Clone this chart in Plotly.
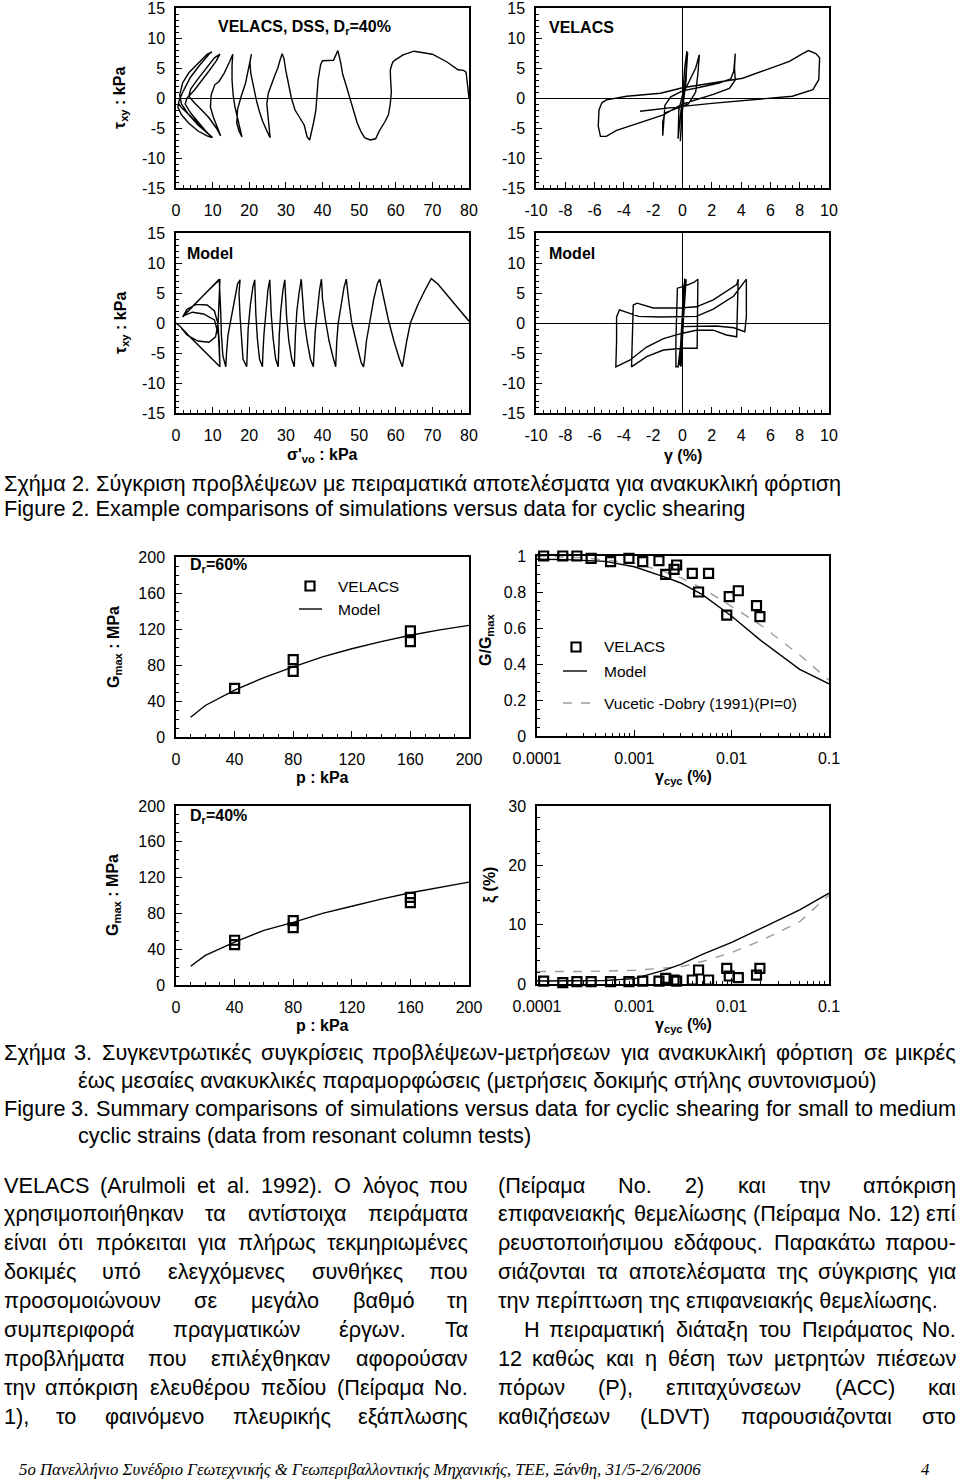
import unicodedata
import plotly.graph_objects as go

W, H = 960, 1482
FONT = "Liberation Sans, Arial, Helvetica, sans-serif"
SERIF = "Liberation Serif, Times New Roman, serif"


def fx(p):
    return p / W


def fy(p):
    return 1 - p / H


# ---------------- data ----------------
VEL_SP_SIG = [80, 79.6, 79.2, 78.5, 77, 74, 70, 65, 62, 60, 59.2, 58.8, 58.5, 58.6, 58.8, 58.5, 58, 57, 55.5, 54.5,
              53, 51.5, 50.5, 49.5, 48.5, 47.5, 46.5, 45.5, 45, 44.2, 43.5, 43, 40, 39.5, 38.8, 38.4, 38.2, 37.6, 37,
              36.5, 35.8, 35, 33.5, 32.5, 31.5, 30.8, 30, 29.5, 29, 28.5, 27.8, 27, 26.2, 25.2, 24.8, 25.1, 25.4,
              25.7, 24.6, 23.6, 22.8, 22, 21.2, 20.4, 20.2, 20.6, 19.8, 19, 17.8, 16.8, 16.6, 17.2, 18, 17, 16.1,
              15.6, 15.3, 15.3, 15.5, 14.6, 13.2, 11.8, 10.6, 9.6, 9.4, 10.2, 11.5, 12.2, 11, 9, 7, 5, 3.5, 4, 6, 8.5,
              10.5, 12, 11, 9, 7, 5, 3, 2.5, 4, 6, 8.5, 10, 8.5, 6, 3.5, 1.5, 1, 1.8, 3.5, 6, 8.5, 9.8, 9, 6.5, 4, 2,
              0.8, 0.5, 1.5, 3.5, 6, 8.5, 9.8, 7, 4, 1.5, 0.8]
VEL_SP_TAU = [0, 2.5, 4.3, 4.6, 4.7, 6.0, 7.3, 7.8, 7.2, 6.4, 6.0, 5.3, 4.6, 3.0, 1.0, -1.0, -2.8, -4.0, -5.5, -6.8,
              -7.0, -6.6, -5.6, -4.2, -2.0, 0, 2.0, 4.0, 5.8, 7.9, 6.8, 6.3, 6.2, 5.6, 3.0, 0.5, -2.0, -4.0, -6.0,
              -7.0, -6.5, -4.5, -3.0, -2.0, 0, 2.0, 4.5, 6.5, 7.4, 6.5, 5.0, 3.8, 2.3, 0.8, -1.0, -3.0, -5.0, -6.6,
              -5.2, -3.8, -2.3, -0.5, 1.8, 4.2, 6.0, 7.3, 5.3, 2.5, 0.3, -1.9, -4.2, -5.5, -6.5, -4.0, -1.5, 0.5,
              3.0, 5.5, 7.3, 6.0, 4.2, 2.8, 2.2, 0.5, -1.5, -3.2, -5.2, -6.3, -5.0, -3.3, -2.0, -0.8, 0.3, 1.5, 3.2,
              5.2, 6.7, 7.3, 6.2, 4.5, 2.8, 1.3, 0, -1.0, -2.5, -4.0, -5.8, -6.6, -5.8, -4.5, -2.8, -1.0, 0.5, 2.5,
              4.2, 5.8, 7.3, 7.7, 7.3, 5.5, 3.5, 1.2, -0.5, -1.5, -2.8, -4.2, -5.5, -6.3, -6.6, -4.8, -3.0, -1.6,
              -1.0]

VEL_SS_GAM = [0, 0.15, 0.3, 0.25, 0, -0.15, -0.05, 0.2, 0.35, 0.2, -0.1, -0.3, -0.25, 0, 0.4, 0.6, 0.9, 1.15,
              1.05, 0.9, 0.4, -0.5, -1.2, -1.35, -1.35, -1.25, -1.2, -0.8, 0, 1.2, 2.5, 3.3, 3.5, 3.6, 3.55, 3.6,
              3.2, 2.1, 1, 0, -1.3, -3.1, -4.5, -5.2, -5.6, -5.75, -5.7, -5.5, -5.2, -3.8, -1.5, 0, 2.1, 4.1, 5.7,
              7.3, 8.2, 8.6, 9.1, 9.36, 9.3, 8.9, 7.5, 5, 2, 0, -2, -2.9]
VEL_SS_TAU = [0, 5, 7.8, 3, -2, -7.2, -3, 3, 7.6, 2, -2, -6.8, -2, 0.5, 2.5, 3.5, 5, 7.2, 4, 1, -1, -1.8, -2.5, -4,
              -6.3, -3, -1.2, 0.2, 1.2, 1.8, 2.5, 3.2, 4.5, 7.4, 5, 3, 1.6, 0.6, -0.2, -1.0, -2.8, -4.2, -5.4, -6.4,
              -6.4, -4.7, -2, -0.8, -0.3, 0.3, 0.8, 1.7, 2.5, 3.3, 4.7, 6.1, 7.4, 7.9, 7.4, 6.7, 3.05, 1.4, 0.3,
              -0.2, -0.9, -1.4, -1.9, -2.2]

MOD_SP_SIG = [80, 77, 74, 71.5, 69.7, 68, 66, 64, 63, 62.2, 61.8, 61, 59.5, 58, 56.8, 56, 55.6, 55, 54, 53, 52,
              51.5, 51.2, 50.5, 49.3, 48, 47.2, 46.7, 46.5, 45.9, 45, 44.3, 43.9, 43.7, 43.6, 43, 41.8, 40.8, 40,
              39.8, 39.7, 39.2, 38.5, 38, 37.7, 37.5, 36.7, 35.8, 35, 34.5, 34.3, 34.2, 33.6, 33, 32.6, 32.4, 32.3,
              31.6, 30.8, 30.2, 29.8, 29.7, 29.2, 28.6, 28.2, 28, 27.9, 27.2, 26.5, 26, 25.7, 25.6, 25.1, 24.5, 24,
              23.7, 23.6, 22.8, 22.2, 21.8, 21.5, 21.5, 21, 20.3, 19.7, 19.4, 19.3, 18.3, 17.8, 17.5, 17.2, 17.5,
              16.8, 16, 15, 14.2, 13.8, 13.6, 12.8, 12.4, 12.2, 12, 11.8, 8, 4, 1.8, 3, 5.5, 8.5, 10.5, 11.4, 11.8,
              12, 8, 4, 1.5, 3, 6, 9, 10.8, 11.5, 11.8, 12, 8, 4, 2, 4.5, 7.5, 10.5, 11.6, 12, 8, 4, 1, 0]
MOD_SP_TAU = [0.3, 2.5, 4.8, 6.5, 7.4, 5.5, 3.0, 0, -3, -6, -7.3, -6, -3, 0.5, 4, 6.5, 7.3, 6.6, 4, 0.5, -3, -6,
              -7.3, -6.5, -3.5, 0, 3.5, 6.3, 7.3, 6, 3, 0, -3, -6, -7.3, -6, -3, 0.5, 4, 6.5, 7.3, 5.5, 2, -1.5, -5,
              -7.3, -6, -3, 0.5, 4, 6.8, 7.3, 5, 2, -2, -5.5, -7.3, -6, -3, 1, 5, 7.2, 5.5, 2, -2, -5.5, -7.3, -6,
              -2.5, 1.5, 5, 7.2, 5.5, 2, -2, -5.5, -7.3, -6, -2.5, 1.5, 5, 7.2, 6, 3, -1, -5, -7.3, -6, -2.5, 1, 5,
              7.2, 6.5, 4, 1, -2, -5, -7.3, -5.5, -2, 2, 6.8, 7.3, 4.9, 2.4, 1.0, 2.3, 3.1, 3.0, 2.0, 0, -3, -7.3,
              -4.9, -2.4, -0.9, -2.0, -3.0, -3.2, -2.3, 0, 3.5, 7.3, 4.9, 2.4, 1.2, 1.8, 1.5, 0.5, -2, -7.3, -4.9,
              -2.4, -0.5, 0]

MOD_SS_GAM = [0, 0.15, -0.1, 0.2, -0.15, 0.1, -0.2, 0.25, 0.05, -0.3, -0.45, -0.45, -0.4, -0.35, 0.2, 0.8, 1.05,
              1.05, 1.05, 1.0, 0.7, 0, -1.3, -2.45, -3.48, -3.45, -3.36, -3.1, -2, -0.2, 0.95, 2.1, 3.7, 3.8, 3.75,
              3.7, 3.7, 3.0, 2.1, 0.95, 0, -1.3, -2.45, -3.6, -4.55, -4.5, -4.5, -4.3, -3.9, -3, -1.5, 0, 0.95, 2.1,
              3.5, 4.36, 4.36, 4.25, 3.5, 2.3, 1.0, 0]
MOD_SS_TAU = [0, 7.4, -7.3, 7.2, -7.2, 6.5, -7.0, 7.3, 0, -7.3, -7.3, -3, 2, 5.8, 6.2, 6.8, 7.3, 3, -1, -4.2, -4.2,
              -4.2, -4.5, -5.6, -7.3, -4, 3.0, 3.3, 2.5, 2.5, 2.7, 3.85, 6.4, 7.3, 4, 0, -2.3, -2.0, -1.2, -1.2,
              -1.7, -2.6, -4.0, -6.2, -7.3, -3, 1.0, 2.2, 1.9, 1.1, 1.0, 1.0, 1.1, 2.3, 4.5, 7.3, 1.0, -1.45, -0.8,
              -0.5, -0.5, -0.6]

P_DATA_60 = [40, 80, 80, 160, 160]
G_DATA_60 = [54, 86, 73, 118, 106]
P_MODEL = [10, 20, 40, 60, 80, 100, 120, 140, 160, 180, 200]
G_MODEL_60 = [22, 35, 52, 66, 78, 89, 98, 106, 113, 119, 124]
P_DATA_40 = [40, 40, 80, 80, 160, 160]
G_DATA_40 = [50, 45, 72, 64, 98, 92]
G_MODEL_40 = [21, 33, 48, 61, 70, 80, 88, 96, 103, 109, 115]

GAMMA_DATA = [1.17e-4, 1.84e-4, 2.57e-4, 3.6e-4, 5.7e-4, 8.8e-4, 1.22e-3, 1.79e-3, 2.1e-3, 2.56e-3, 2.72e-3,
              3.94e-3, 4.57e-3, 5.79e-3, 9.44e-3, 1.17e-2, 8.9e-3, 1.8e-2, 1.95e-2]
GRATIO_DATA = [1.0, 1.0, 1.0, 0.987, 0.969, 0.987, 0.969, 0.974, 0.898, 0.926, 0.95, 0.904, 0.80, 0.904, 0.774,
               0.807, 0.672, 0.724, 0.663]
DAMP_DATA = [0.5, 0.22, 0.4, 0.4, 0.4, 0.4, 0.5, 0.5, 0.95, 0.67, 0.5, 0.67, 2.36, 0.67, 1.35, 1.07, 2.64, 1.5, 2.64]
GAMMA_MODEL = [1e-4, 2e-4, 5e-4, 1e-3, 2e-3, 3e-3, 5e-3, 1e-2, 2e-2, 5e-2, 1e-1]
GRATIO_MODEL = [0.982, 0.98, 0.97, 0.94, 0.885, 0.85, 0.785, 0.665, 0.53, 0.37, 0.29]
DAMP_MODEL = [0.5, 0.5, 0.6, 0.9, 2.3, 3.3, 5.0, 7.0, 9.4, 12.5, 15.3]
GAMMA_VD = [1e-4, 3e-4, 1e-3, 2e-3, 3e-3, 5e-3, 1e-2, 2e-2, 5e-2, 1e-1]
GRATIO_VD = [1.0, 0.99, 0.96, 0.915, 0.88, 0.82, 0.72, 0.615, 0.45, 0.31]
DAMP_VD = [2.1, 2.1, 2.3, 2.6, 2.9, 3.8, 5.3, 7.3, 10.5, 15.0]

LOG_TICKS = [1e-4, 1e-3, 1e-2, 1e-1]
LOG_TICKTEXT = ["0.0001", "0.001", "0.01", "0.1"]
TAU_TICKS = [-15, -10, -5, 0, 5, 10, 15]
TAU_TICKTEXT = ["-15", "-10", "-5", "0", "5", "10", "15"]
GAM_TICKS = [-10, -8, -6, -4, -2, 0, 2, 4, 6, 8, 10]
GAM_TICKTEXT = ["-10", "-8", "-6", "-4", "-2", "0", "2", "4", "6", "8", "10"]

CAPTION2 = ["Σχήμα 2. Σύγκριση προβλέψεων με πειραματικά αποτελέσματα για ανακυκλική φόρτιση",
            "Figure 2. Example comparisons of simulations versus data for cyclic shearing"]
CAPTION3 = ["Σχήμα 3. Συγκεντρωτικές συγκρίσεις προβλέψεων-μετρήσεων για ανακυκλική φόρτιση σε μικρές",
            "έως μεσαίες ανακυκλικές παραμορφώσεις (μετρήσεις δοκιμής στήλης συντονισμού)",
            "Figure 3. Summary comparisons of simulations versus data for cyclic shearing for small to medium",
            "cyclic strains (data from resonant column tests)"]
BODY_LEFT = ["VELACS (Arulmoli et al. 1992). Ο λόγος που",
             "χρησιμοποιήθηκαν τα αντίστοιχα πειράματα",
             "είναι ότι πρόκειται για πλήρως τεκμηριωμένες",
             "δοκιμές υπό ελεγχόμενες συνθήκες που",
             "προσομοιώνουν σε μεγάλο βαθμό τη",
             "συμπεριφορά πραγματικών έργων. Τα",
             "προβλήματα που επιλέχθηκαν αφορούσαν",
             "την απόκριση ελευθέρου πεδίου (Πείραμα No.",
             "1), το φαινόμενο πλευρικής εξάπλωσης"]
BODY_RIGHT = ["(Πείραμα No. 2) και την απόκριση",
              "επιφανειακής θεμελίωσης (Πείραμα No. 12) επί",
              "ρευστοποιήσιμου εδάφους. Παρακάτω παρου-",
              "σιάζονται τα αποτελέσματα της σύγκρισης για",
              "την περίπτωση της επιφανειακής θεμελίωσης.",
              "Η πειραματική διάταξη του Πειράματος No.",
              "12 καθώς και η θέση των μετρητών πιέσεων",
              "πόρων (P), επιταχύνσεων (ACC) και",
              "καθιζήσεων (LDVT) παρουσιάζονται στο"]
FOOTER = "5o Πανελλήνιο Συνέδριο Γεωτεχνικής & Γεωπεριβαλλοντικής Μηχανικής, ΤΕΕ, Ξάνθη, 31/5-2/6/2006"
PAGE = "4"

# ---------------- figure ----------------
fig = go.Figure()

AX = {
    1: ((176, 469), (8, 188)),
    2: ((536, 829), (8, 188)),
    3: ((176, 469), (233, 413)),
    4: ((536, 829), (233, 413)),
    5: ((176, 469), (557, 737)),
    6: ((537, 829), (556, 736)),
    7: ((176, 469), (806, 985)),
    8: ((537, 829), (806, 984)),
}

LINE = dict(color="black", width=1.4)


def add_line(x, y, n, **kw):
    ln = dict(LINE)
    ln.update(kw)
    fig.add_trace(go.Scatter(x=x, y=y, mode="lines", line=ln, xaxis=f"x{n}", yaxis=f"y{n}",
                             showlegend=False, hoverinfo="skip"))


def add_sq(x, y, n):
    fig.add_trace(go.Scatter(x=x, y=y, mode="markers", xaxis=f"x{n}", yaxis=f"y{n}", showlegend=False,
                             cliponaxis=False, hoverinfo="skip",
                             marker=dict(symbol="square-open", size=9, color="black", line=dict(width=2.2))))


add_line(VEL_SP_SIG, VEL_SP_TAU, 1)
add_line(VEL_SS_GAM, VEL_SS_TAU, 2)
add_line(MOD_SP_SIG, MOD_SP_TAU, 3)
add_line(MOD_SS_GAM, MOD_SS_TAU, 4)
add_line(P_MODEL, G_MODEL_60, 5)
add_sq(P_DATA_60, G_DATA_60, 5)
add_line(GAMMA_VD, GRATIO_VD, 6, color="#9a9a9a", dash="dash")
add_line(GAMMA_MODEL, GRATIO_MODEL, 6)
add_sq(GAMMA_DATA, GRATIO_DATA, 6)
add_line(P_MODEL, G_MODEL_40, 7)
add_sq(P_DATA_40, G_DATA_40, 7)
add_line(GAMMA_VD, DAMP_VD, 8, color="#9a9a9a", dash="dash")
add_line(GAMMA_MODEL, DAMP_MODEL, 8)
add_sq(GAMMA_DATA, DAMP_DATA, 8)


def base_axis(**kw):
    d = dict(showline=True, linecolor="black", linewidth=1.5, mirror=True, ticks="inside", ticklen=6,
             tickwidth=1.2, tickcolor="black", showgrid=False, zeroline=False, automargin=False,
             ticklabeloverflow="allow", tickfont=dict(family=FONT, size=16, color="black"))
    d.update(kw)
    return d


def minor(dt=None, vals=None):
    m = dict(ticks="inside", ticklen=3, tickwidth=1, tickcolor="black", showgrid=False)
    if vals is not None:
        m.update(tickmode="array", tickvals=vals)
    else:
        m.update(dtick=dt)
    return m


log_minor = [k * 10 ** e for e in (-4, -3, -2) for k in range(2, 10)]

tau_axis = dict(range=[-15, 15], tickmode="array", tickvals=TAU_TICKS, ticktext=TAU_TICKTEXT,
                minor=minor(1), zeroline=True)
gam_axis = dict(range=[-10, 10], tickmode="array", tickvals=GAM_TICKS, ticktext=GAM_TICKTEXT,
                minor=minor(0.5), zeroline=True)
sig_axis = dict(range=[0, 80], dtick=10, minor=minor(2))

axes_cfg = {
    1: (sig_axis, tau_axis),
    2: (gam_axis, tau_axis),
    3: (sig_axis, tau_axis),
    4: (gam_axis, tau_axis),
    5: (dict(range=[0, 200], dtick=40, minor=minor(10)),
        dict(range=[0, 200], dtick=40, minor=minor(10))),
    6: (dict(type="log", range=[-4, -1], tickmode="array", tickvals=LOG_TICKS, ticktext=LOG_TICKTEXT,
             minor=minor(vals=log_minor)),
        dict(range=[0, 1], tickmode="array", tickvals=[0, 0.2, 0.4, 0.6, 0.8, 1],
             ticktext=["0", "0.2", "0.4", "0.6", "0.8", "1"], minor=minor(0.05))),
    7: (dict(range=[0, 200], dtick=40, minor=minor(10)),
        dict(range=[0, 200], dtick=40, minor=minor(10))),
    8: (dict(type="log", range=[-4, -1], tickmode="array", tickvals=LOG_TICKS, ticktext=LOG_TICKTEXT,
             minor=minor(vals=log_minor)),
        dict(range=[0, 30], dtick=10, minor=minor(2))),
}

layout_axes = {}
for n, ((x0, x1), (y0, y1)) in AX.items():
    xc, yc = axes_cfg[n]
    xa = base_axis(domain=[fx(x0), fx(x1)], anchor=f"y{n}", ticklabelstandoff=7,
                   zerolinecolor="black", zerolinewidth=1.4)
    xa.update(xc)
    ya = base_axis(domain=[fy(y1), fy(y0)], anchor=f"x{n}", ticklabelstandoff=6,
                   zerolinecolor="black", zerolinewidth=1.4)
    ya.update(yc)
    key = "" if n == 1 else str(n)
    layout_axes[f"xaxis{key}"] = xa
    layout_axes[f"yaxis{key}"] = ya

annotations = []
shapes = []


def T(text, x, y, size=16, anchor="left", bold=False, angle=0, family=FONT, italic=False, color="black"):
    if bold:
        text = "<b>" + text + "</b>"
    if italic:
        text = "<i>" + text + "</i>"
    annotations.append(dict(text=text, x=fx(x), y=fy(y), xref="paper", yref="paper", xanchor=anchor,
                            yanchor="middle", showarrow=False, textangle=angle, borderpad=0,
                            font=dict(family=family, size=size, color=color)))


T("VELACS, DSS, D<sub>r</sub>=40%", 217, 28, 16, bold=True)
T("VELACS", 548, 28, 16, bold=True)
T("Model", 186, 253, 16, bold=True)
T("Model", 548, 253, 16, bold=True)
T("D<sub>r</sub>=60%", 189, 565, 16, bold=True)
T("D<sub>r</sub>=40%", 189, 816, 16, bold=True)

T("τ<sub>xy</sub> : kPa", 121, 98, 16, "center", bold=True, angle=-90)
T("τ<sub>xy</sub> : kPa", 121, 323, 16, "center", bold=True, angle=-90)
T("σ'<sub>vo</sub> : kPa", 322, 455, 16, "center", bold=True)
T("γ (%)", 683, 455, 16, "center", bold=True)
T("p : kPa", 322, 778, 16, "center", bold=True)
T("p : kPa", 322, 1025, 16, "center", bold=True)
T("γ<sub>cyc</sub> (%)", 683, 778, 16, "center", bold=True)
T("γ<sub>cyc</sub> (%)", 683, 1025, 16, "center", bold=True)
T("G<sub>max</sub> : MPa", 115, 647, 16, "center", bold=True, angle=-90)
T("G<sub>max</sub> : MPa", 113, 895, 16, "center", bold=True, angle=-90)
T("G/G<sub>max</sub>", 486, 640, 16, "center", bold=True, angle=-90)
T("ξ (%)", 490, 885, 16, "center", bold=True, angle=-90)


def sq_shape(cx, cy, s=9):
    shapes.append(dict(type="rect", xref="paper", yref="paper", x0=fx(cx - s / 2), x1=fx(cx + s / 2),
                       y0=fy(cy + s / 2), y1=fy(cy - s / 2), line=dict(color="black", width=2.2)))


def seg_shape(xa, xb, y, color="black", dash="solid"):
    shapes.append(dict(type="line", xref="paper", yref="paper", x0=fx(xa), x1=fx(xb), y0=fy(y), y1=fy(y),
                       line=dict(color=color, width=1.4, dash=dash)))


sq_shape(310, 586)
T("VELACS", 337, 586, 15.5)
seg_shape(299, 322, 609)
T("Model", 337, 609, 15.5)

sq_shape(576, 647)
T("VELACS", 603, 647, 15.5)
seg_shape(563, 587, 671)
T("Model", 603, 671, 15.5)
seg_shape(563, 590, 703, color="#9a9a9a", dash="dash")
T("Vucetic -Dobry (1991)(PI=0)", 603, 703, 15.5)

CW = {" ": 278, "(": 333, ")": 333, ",": 278, "-": 333, ".": 278, "/": 278, ":": 278, "=": 584, "&": 667,
      "%": 889}
for d in "0123456789":
    CW[d] = 556
CW.update({"A": 667, "B": 667, "C": 722, "D": 722, "E": 667, "F": 611, "G": 778, "H": 722, "I": 278, "J": 500,
           "K": 667, "L": 556, "M": 833, "N": 722, "O": 778, "P": 667, "Q": 778, "R": 722, "S": 667, "T": 611,
           "U": 722, "V": 667, "W": 944, "X": 667, "Y": 667, "Z": 611})
CW.update({"a": 556, "b": 556, "c": 500, "d": 556, "e": 556, "f": 278, "g": 556, "h": 556, "i": 222, "j": 222,
           "k": 500, "l": 222, "m": 833, "n": 556, "o": 556, "p": 556, "q": 556, "r": 333, "s": 500, "t": 278,
           "u": 556, "v": 500, "w": 722, "x": 500, "y": 500, "z": 500})
CW.update({"Α": 667, "Β": 667, "Γ": 551, "Δ": 668, "Ε": 667, "Ζ": 611, "Η": 722, "Θ": 778, "Ι": 278, "Κ": 667,
           "Λ": 668, "Μ": 833, "Ν": 722, "Ξ": 650, "Ο": 778, "Π": 722, "Ρ": 667, "Σ": 618, "Τ": 611, "Υ": 667,
           "Φ": 798, "Χ": 667, "Ψ": 835, "Ω": 748})
CW.update({"α": 578, "β": 575, "γ": 500, "δ": 557, "ε": 446, "ζ": 441, "η": 556, "θ": 556, "ι": 222, "κ": 500,
           "λ": 500, "μ": 577, "ν": 500, "ξ": 448, "ο": 556, "π": 687, "ρ": 574, "σ": 618, "ς": 482, "τ": 395,
           "υ": 546, "φ": 730, "χ": 526, "ψ": 713, "ω": 781})


def width_of(s, size):
    tot = 0
    for ch in s:
        base = unicodedata.normalize("NFD", ch)[0]
        tot += CW.get(base, 556)
    return tot * size / 1000.0


def justify(line, left, right, y, size):
    words = line.split()
    ws = [width_of(w, size) for w in words]
    gap = (right - left - sum(ws)) / (len(words) - 1)
    pos = left
    for i, w in enumerate(words):
        if i == 0:
            T(w, left, y, size, "left")
        elif i == len(words) - 1:
            T(w, right, y, size, "right")
        else:
            T(w, pos + ws[i] / 2, y, size, "center")
        pos += ws[i] + gap


CAP = 21.7
BODY = 21.7
T(CAPTION2[0], 3, 483, CAP)
T(CAPTION2[1], 3, 508, CAP)

justify(CAPTION3[0], 3, 957, 1052, CAP)
T(CAPTION3[1], 77, 1080, CAP)
justify(CAPTION3[2], 3, 957, 1108, CAP)
T(CAPTION3[3], 77, 1135, CAP)

for i, line in enumerate(BODY_LEFT):
    justify(line, 3, 469, 1185 + 28.9 * i, BODY)
for i, line in enumerate(BODY_RIGHT):
    y = 1185 + 28.9 * i
    if i == 4:
        T(line, 497, y, BODY)
    elif i == 5:
        justify(line, 523, 957, y, BODY)
    else:
        justify(line, 497, 957, y, BODY)

T(FOOTER, 18, 1469, 16.8, family=SERIF, italic=True)
T(PAGE, 920, 1469, 16.8, family=SERIF, italic=True)

fig.update_layout(width=W, height=H, margin=dict(l=0, r=0, t=0, b=0, pad=0, autoexpand=False),
                  paper_bgcolor="white", plot_bgcolor="white", showlegend=False,
                  annotations=annotations, shapes=shapes, **layout_axes)

POST = ("var s=document.createElement('style');"
        "s.innerHTML='html,body{margin:0!important;padding:0!important;overflow:hidden!important;}';"
        "document.head.appendChild(s);")
fig.write_html("out.html", config={"displayModeBar": False}, post_script=POST)
